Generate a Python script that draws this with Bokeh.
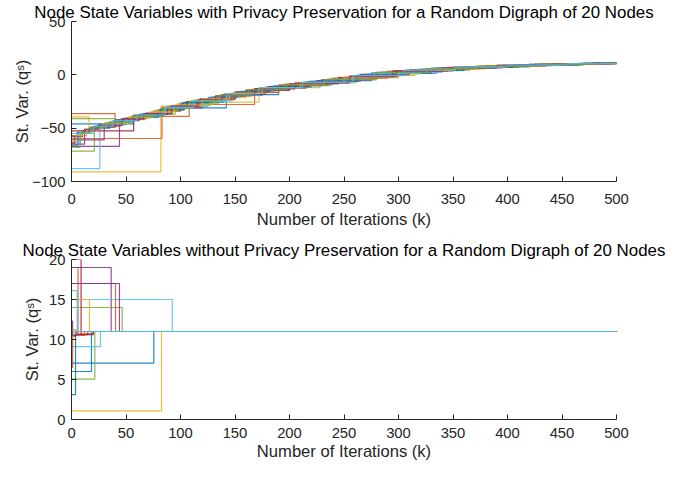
from bokeh.plotting import figure
from bokeh.models import Range1d, FixedTicker
from bokeh.layouts import column
from bokeh.embed import file_html
from bokeh.resources import INLINE

# ---------------- data ----------------
colors = ["#0072BD", "#D95319", "#EDB120", "#7E2F8E", "#77AC30", "#4DBEEE", "#A2142F"]
K_END = 500

title_top = "Node State Variables with Privacy Preservation for a Random Digraph of 20 Nodes"
title_bot = "Node State Variables without Privacy Preservation for a Random Digraph of 20 Nodes"
xlabel = "Number of Iterations (k)"
ylabel = "St. Var. (qˢ)"
x_ticks = [0, 50, 100, 150, 200, 250, 300, 350, 400, 450, 500]
y_ticks_top = [-100, -50, 0, 50]
y_ticks_bot = [0, 5, 10, 15, 20]

# top panel: update iterations (k) and values of each node (with privacy)
top_k = [
    [0, 57, 80, 103, 142, 175, 215, 262, 310, 360, 420, 470],
    [0, 40, 55, 108, 168, 205, 240, 290, 330, 390, 455, 490],
    [0, 82, 110, 172, 228, 270, 320, 380, 430, 485],
    [0, 44, 60, 85, 120, 150, 190, 225, 275, 335, 395, 450],
    [0, 21, 38, 62, 95, 128, 160, 200, 245, 300, 355, 410, 470],
    [0, 26, 48, 72, 90, 125, 155, 185, 230, 280, 340, 392, 445],
    [0, 57, 75, 100, 118, 150, 180, 210, 255, 300, 345, 383, 425, 460],
    [0, 5, 12, 25, 50, 80, 104, 140, 190, 230, 275, 330, 380, 430, 480],
    [0, 83, 115, 145, 170, 215, 250, 290, 345, 400, 455],
    [0, 16, 30, 52, 75, 96, 130, 165, 205, 260, 315, 370, 425, 475],
    [0, 30, 47, 68, 92, 112, 140, 178, 220, 265, 310, 365, 420, 478],
    [0, 40, 58, 78, 99, 135, 165, 195, 240, 285, 330, 385, 440],
    [0, 8, 20, 42, 65, 85, 110, 148, 186, 238, 272, 320, 365, 392, 450],
    [0, 3, 10, 18, 40, 62, 88, 106, 132, 160, 200, 245, 295, 350, 405, 465],
    [0, 6, 16, 35, 56, 82, 102, 126, 152, 182, 218, 262, 305, 360, 410, 468],
    [0, 10, 22, 45, 68, 90, 118, 150, 190, 235, 280, 325, 375, 435, 490],
    [0, 4, 14, 28, 50, 72, 94, 120, 145, 175, 210, 250, 300, 350, 395, 445],
    [0, 12, 24, 46, 66, 92, 116, 138, 168, 205, 255, 298, 340, 390, 440, 495],
    [0, 8, 18, 32, 55, 84, 108, 136, 162, 196, 232, 278, 326, 372, 428, 485],
    [0, 20, 38, 60, 86, 112, 142, 172, 212, 258, 305, 352, 400, 455],
]
top_v = [
    [-46, -38, -33, -31, -19, -12, -6.5, -0.5, 4.5, 7.5, 9.8, 10.8],
    [-36.3, -42, -39, -27.8, -13, -7.5, -3, 3.3, 6, 8.8, 10.5, 10.9],
    [-91, -29.4, -25.6, -12, -4.8, 1, 5.5, 8.4, 10, 10.9],
    [-67, -42, -38, -31, -23, -16.5, -9.8, -5.5, 1.5, 6.4, 9, 10.5],
    [-71.5, -48.5, -43, -37, -28.5, -20.8, -14.5, -8.3, -2.6, 4, 7.3, 9.4, 10.8],
    [-88, -47.5, -40.5, -35, -29.5, -21.5, -15.5, -10.5, -4.8, 2.3, 6.6, 8.7, 10.3],
    [-52.5, -38, -34, -27, -22.5, -16.2, -11.2, -7.2, -1.3, 4, 6.8, 8.6, 9.9, 10.6],
    [-58, -54, -51, -46.5, -40, -32.5, -25.5, -18.5, -9.8, -4.8, 1.6, 6, 8.4, 10, 10.9],
    [-59.7, -30.5, -23.5, -17.5, -12.8, -6.8, -2.2, 3.2, 6.9, 9.1, 10.5],
    [-39.4, -49.5, -45.5, -39.5, -34, -27.5, -20.5, -13.5, -7.6, -0.6, 5.2, 8.1, 10, 10.8],
    [-61, -45.5, -41, -36, -29, -24, -18, -11.4, -6, 0.4, 4.6, 7.8, 9.8, 10.9],
    [-41, -42.5, -38, -33, -26.5, -19.4, -13.6, -9, -3.2, 2.8, 6.1, 8.6, 10.3],
    [-63, -53, -48.5, -42, -36.5, -31, -24.4, -16.8, -10.2, -3.5, 1.2, 5.3, 7.6, 8.8, 10.5],
    [-64, -58, -52.5, -49, -42.5, -37, -30, -25, -19.8, -14.4, -8.2, -2.5, 3.7, 7.2, 9.2, 10.7],
    [-66, -55, -50, -44, -39, -32, -26, -21, -15.8, -10.8, -6.2, -0.4, 4.3, 7.5, 9.4, 10.8],
    [-57, -52, -48, -41.5, -35.8, -29.5, -22.8, -16.4, -9.6, -3.9, 2.4, 5.8, 8.2, 10.1, 10.95],
    [-62, -57, -51, -46, -40.3, -35, -28.5, -22.5, -17.3, -12, -7.3, -2.1, 4, 7.2, 9, 10.4],
    [-65, -51, -47.5, -41.2, -36.3, -29.3, -23.5, -18.6, -13, -7.8, -1.4, 3.7, 6.6, 8.8, 10.3, 11],
    [-68, -54, -49, -44.8, -39, -31.5, -24.8, -19, -14, -8.8, -4.4, 2.2, 5.9, 8.1, 10.1, 10.9],
    [-55, -48, -43, -37.5, -30.5, -24.2, -17.8, -12.2, -6.9, -0.8, 4.4, 7.3, 9.1, 10.6],
]

# bottom panel: update iterations (k) and values of each node (no privacy)
bot_k = [
    [0, 75.5],
    [0, 6, 20],
    [0, 82.6],
    [0, 36.4],
    [0, 46.5],
    [0, 92.4],
    [0, 8.8, 20],
    [0, 18.3],
    [0, 40.4],
    [0, 16.5],
    [0, 44],
    [0, 21.4],
    [0, 26.6],
    [0, 3, 15],
    [0, 3.7],
    [0, 1, 12],
    [0, 2],
    [0, 1, 5],
    [0, 4],
    [0, 5.2],
]
bot_v = [
    [7.05, 11.0],
    [19.0, 10.7, 11.0],
    [1.08, 11.0],
    [19.0, 11.0],
    [14.0, 11.0],
    [15.0, 11.0],
    [20.0, 10.6, 11.0],
    [6.0, 11.0],
    [17.0, 11.0],
    [15.0, 11.0],
    [17.0, 11.0],
    [5.04, 11.0],
    [9.1, 11.0],
    [10.4, 10.6, 11.0],
    [3.1, 11.0],
    [6.5, 10.5, 11.0],
    [10.3, 11.0],
    [12.3, 10.5, 11.0],
    [11.2, 11.0],
    [16.1, 11.0],
]

FONT = "Liberation Sans"


def make_fig(title, yr, yticks, mb_top, mb_bot, tick_sd, lab_sd, ylab_sd):
    p = figure(frame_width=545, frame_height=160,
               x_range=Range1d(0, 500), y_range=Range1d(*yr),
               output_backend="svg", toolbar_location=None,
               min_border_left=71, min_border_right=54,
               min_border_top=mb_top, min_border_bottom=mb_bot)
    p.outline_line_color = None
    p.xgrid.visible = False
    p.ygrid.visible = False
    p.title.text = title
    p.title.align = "center"
    p.title.text_font = FONT
    p.title.text_font_size = "16.9px"
    p.title.text_font_style = "normal"
    p.title.text_color = "#000000"
    p.title.standoff = 0
    for ax, ticks in ((p.xaxis[0], x_ticks), (p.yaxis[0], yticks)):
        ax.ticker = FixedTicker(ticks=ticks)
        ax.axis_line_color = "#262626"
        ax.axis_line_width = 1
        ax.major_tick_line_color = "#262626"
        ax.major_tick_in = 5
        ax.major_tick_out = 0
        ax.minor_tick_in = 0
        ax.minor_tick_out = 0
        ax.major_label_text_font = FONT
        ax.major_label_text_font_size = "14.8px"
        ax.major_label_text_color = "#262626"
        ax.axis_label_text_font = FONT
        ax.axis_label_text_font_size = "16.6px"
        ax.axis_label_text_font_style = "normal"
        ax.axis_label_text_color = "#262626"
    p.xaxis[0].axis_label = xlabel
    p.yaxis[0].axis_label = ylabel
    p.xaxis[0].major_label_standoff = tick_sd
    p.yaxis[0].major_label_standoff = 6
    p.xaxis[0].axis_label_standoff = lab_sd
    p.yaxis[0].axis_label_standoff = ylab_sd
    return p


top = make_fig(title_top, (-100, 50), y_ticks_top, 16, 53, 12, 3, -3)
bot = make_fig(title_bot, (0, 20), y_ticks_bot, 25, 47, 8, 1, 4)

for i in range(20):
    c = colors[i % 7]
    xs = list(top_k[i]) + [K_END]
    ys = list(top_v[i]) + [top_v[i][-1]]
    top.step(xs, ys, mode="after", line_color=c, line_width=1.2, line_alpha=0.85)
    xs = list(bot_k[i]) + [K_END]
    ys = list(bot_v[i]) + [bot_v[i][-1]]
    bot.step(xs, ys, mode="after", line_color=c, line_width=1.2, line_alpha=0.85)

layout = column(top, bot, spacing=0)
open("out.html", "w").write(file_html(layout, INLINE))
